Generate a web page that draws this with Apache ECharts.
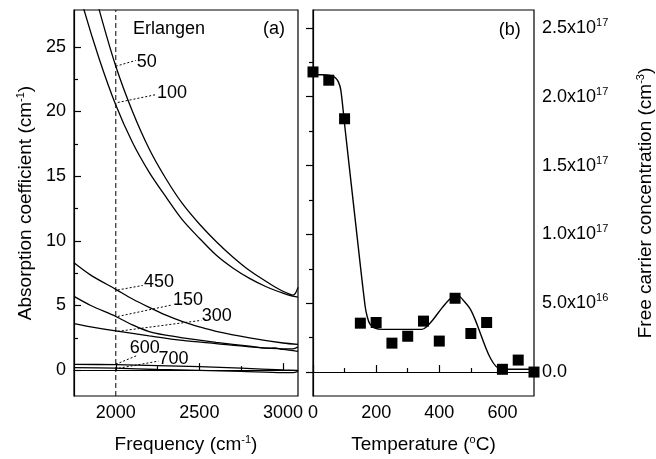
<!DOCTYPE html>
<html>
<head>
<meta charset="utf-8">
<script src="https://cdn.jsdelivr.net/npm/echarts@6.0.0/dist/echarts.min.js"></script>
<style>
    html, body { margin: 0; padding: 0; background: #fff; }
    #chart { width: 656px; height: 459px; }
</style>
</head>
<body>
<div id="chart"></div>
<script>
// ---- panel (a): absorption spectra, [frequency cm-1, alpha cm-1] ----
var curve50 = [[1850, 30.5], [1900, 27.9], [2000, 23.5], [2100, 20.0], [2200, 17.1], [2300, 14.8], [2400, 12.85],
    [2500, 11.3], [2600, 9.95], [2700, 8.75], [2800, 7.7], [2900, 6.85], [2950, 6.45], [3000, 6.1], [3040, 5.88],
    [3060, 5.8], [3075, 5.95], [3090, 6.4]];
var curve100 = [[1780, 29.5], [1800, 28.3], [1900, 24.1], [2000, 20.5], [2100, 17.6], [2200, 15.3], [2300, 13.4],
    [2400, 11.6], [2500, 10.2], [2600, 8.9], [2700, 7.9], [2800, 7.1], [2900, 6.45], [3000, 5.95], [3050, 5.75], [3090, 5.65]];
var curve450 = [[1750, 8.3], [1850, 7.35], [2000, 6.25], [2100, 5.5], [2200, 4.85], [2300, 4.25], [2400, 3.75],
    [2500, 3.35], [2600, 3.0], [2800, 2.5], [3000, 2.1], [3090, 2.0]];
var curve150 = [[1750, 5.7], [1850, 5.0], [2000, 4.15], [2100, 3.5], [2200, 2.98], [2300, 2.7], [2400, 2.5], [2600, 2.15],
    [2800, 1.85], [2900, 1.7], [2950, 1.72], [3000, 1.6], [3090, 1.45]];
var curve300 = [[1750, 3.6], [1850, 3.35], [2000, 3.03], [2200, 2.65], [2400, 2.3], [2600, 2.05], [2800, 1.8],
    [3000, 1.65], [3060, 1.65], [3090, 1.8]];
var curve600 = [[1750, 0.45], [2000, 0.42], [2250, 0.35], [2500, 0.27], [2750, 0.15], [3000, 0.02], [3090, -0.02]];
var curve700 = [[1750, 0.2], [2000, 0.15], [2250, 0.05], [2500, -0.02], [2750, -0.1], [3000, -0.2], [3060, -0.2], [3090, -0.1]];
var spectra = [curve50, curve100, curve450, curve150, curve300, curve600, curve700];

var markFreq = 2000; // dashed line
var freqTicks = [2000, 2500, 3000];
var freqMinor = [2250, 2750];
var alphaTicks = [0, 5, 10, 15, 20, 25];
var alphaMinor = [2.5, 7.5, 12.5, 17.5, 22.5];

// annealing temperature tags with dotted leaders
var tagNames = ['50', '100', '450', '150', '300', '600', '700'];
var tagFrom = [[2000, 23.5], [2012, 20.7], [2012, 6.2], [2012, 4.15], [2012, 3.0], [2000, 0.45], [2018, 0.15]];
var tagTo = [[2119, 23.95], [2238, 21.3], [2161, 6.55], [2339, 5.05], [2512, 3.85], [2131, 1.15], [2256, 0.7]];
var tagAt = [[2185, 23.8], [2336, 21.4], [2259, 6.85], [2432, 5.46], [2604, 4.2], [2173, 1.7], [2345, 0.85]];
var notesA = [['Erlangen', 2318, 26.4], ['(a)', 2946, 26.4]];

// ---- panel (b): free carrier concentration vs temperature ----
var temps = [0, 50, 100, 150, 200, 250, 300, 350, 400, 450, 500, 550, 600, 650, 700];
var carriers = [2.18e17, 2.12e17, 1.84e17, 0.355e17, 0.36e17, 0.21e17, 0.26e17, 0.37e17, 0.225e17, 0.536e17,
    0.28e17, 0.36e17, 0.02e17, 0.087e17, 0];
var fitT = [0, 30, 55, 70, 80, 88, 100, 137, 165, 172, 180, 195, 220, 345, 360, 380, 410, 438, 459, 480, 500, 598, 700];
var fitN = [2.16e17, 2.16e17, 2.155e17, 2.14e17, 2.11e17, 2.05e17, 1.80e17, 1.04e17, 0.48e17, 0.40e17, 0.35e17,
    0.32e17, 0.31e17, 0.31e17, 0.33e17, 0.38e17, 0.47e17, 0.54e17, 0.555e17, 0.51e17, 0.45e17, 0.02e17, 0.02e17];
var tempTicks = [0, 200, 400, 600];
var tempMinor = [100, 300, 500];
var concTicks = [0, 0.5e17, 1.0e17, 1.5e17, 2.0e17, 2.5e17];
var concMinor = [0.25e17, 0.75e17, 1.25e17, 1.75e17, 2.25e17];
var noteB = ['(b)', 623, 2.485e17];

var FONT = 'Liberation Sans, Arial, sans-serif';
var INK = '#000';
var supStyle = { fontSize: 11, fontFamily: FONT, color: INK, padding: [0, 0, 10, 0] };

function plainLabel(v) { return String(v); }

function sciLabel(v) {
    if (v === 0) return '0.0';
    var e = Math.floor(Math.log10(v) + 1e-9);
    var m = v / Math.pow(10, e);
    return m.toFixed(1) + 'x10{sup|' + e + '}';
}

// major axis = labels + long ticks, minor axis = short ticks only
function axisPair(grid, pos, min, max, major, minor, extra) {
    var a = {
        type: 'value', gridIndex: grid, position: pos, min: min, max: max,
        axisLine: { show: true, lineStyle: { color: INK, width: 1.2 } },
        axisTick: { show: true, inside: true, length: 7, customValues: major, lineStyle: { color: INK, width: 1.2 } },
        axisLabel: { show: true, customValues: major, margin: 8, fontSize: 18, fontFamily: FONT, color: INK, formatter: plainLabel },
        splitLine: { show: false }
    };
    for (var k in extra) a[k] = extra[k];
    var b = {
        type: 'value', gridIndex: grid, position: pos, min: min, max: max,
        axisLine: { show: false },
        axisTick: { show: true, inside: true, length: 4, customValues: minor, lineStyle: { color: INK, width: 1.2 } },
        axisLabel: { show: false },
        splitLine: { show: false }
    };
    return [a, b];
}

var nameStyle = { fontSize: 19, fontFamily: FONT, color: INK, rich: { sup: supStyle } };
var xa = axisPair(0, 'bottom', 1750, 3090, freqTicks, freqMinor, {
    name: 'Frequency (cm{sup|-1})', nameLocation: 'middle', nameGap: 38, nameTextStyle: nameStyle
});
var ya = axisPair(0, 'left', -2, 27.85, alphaTicks, alphaMinor, {
    name: 'Absorption coefficient (cm{sup|-1})', nameLocation: 'middle', nameGap: 38, nameTextStyle: nameStyle
});
var xb = axisPair(1, 'bottom', 0, 700, tempTicks, tempMinor, {
    name: 'Temperature ({sup|o}C)', nameLocation: 'middle', nameGap: 38, nameTextStyle: nameStyle
});
var yb = axisPair(1, 'right', -0.174e17, 2.63e17, concTicks, concMinor, {
    name: 'Free carrier concentration (cm{sup|-3})', nameLocation: 'middle', nameGap: 101, nameRotate: 90,
    nameTextStyle: nameStyle
});
yb[0].axisLabel.formatter = sciLabel;
yb[0].axisLabel.rich = { sup: supStyle };

var series = [];
spectra.forEach(function (c) {
    series.push({
        type: 'line', xAxisIndex: 0, yAxisIndex: 0, data: c, smooth: 0.3,
        showSymbol: false, silent: true, lineStyle: { color: INK, width: 1.3 }, clip: true
    });
});
series.push({
    type: 'line', xAxisIndex: 0, yAxisIndex: 0, data: [[markFreq, -2], [markFreq, 27.85]], showSymbol: false, silent: true,
    lineStyle: { color: INK, width: 1, type: [5, 3] }
});
for (var i = 0; i < tagNames.length; i++) {
    series.push({
        type: 'line', xAxisIndex: 0, yAxisIndex: 0, data: [tagFrom[i], tagTo[i]], showSymbol: false, silent: true,
        lineStyle: { color: INK, width: 1, type: [2, 2] }
    });
}
var textA = tagAt.map(function (p, i) { return { value: p, name: tagNames[i] }; });
notesA.forEach(function (n) { textA.push({ value: [n[1], n[2]], name: n[0] }); });
var textLabel = { show: true, position: 'inside', formatter: '{b}', fontSize: 18, fontFamily: FONT, color: INK, textBorderWidth: 0 };
series.push({
    type: 'scatter', xAxisIndex: 0, yAxisIndex: 0, data: textA, symbolSize: 1, silent: true,
    itemStyle: { color: '#fff', opacity: 1 }, label: textLabel
});

series.push({
    type: 'line', xAxisIndex: 2, yAxisIndex: 2, data: fitT.map(function (t, i) { return [t, fitN[i]]; }),
    smooth: 0.3, showSymbol: false, silent: true, lineStyle: { color: INK, width: 1.4 }
});
series.push({
    type: 'scatter', xAxisIndex: 2, yAxisIndex: 2, data: temps.map(function (t, i) { return [t, carriers[i]]; }),
    symbol: 'rect', symbolSize: 11, itemStyle: { color: '#000', opacity: 1 }, clip: false, silent: true
});
series.push({
    type: 'scatter', xAxisIndex: 2, yAxisIndex: 2, data: [{ value: [noteB[1], noteB[2]], name: noteB[0] }],
    symbolSize: 1, silent: true, itemStyle: { color: '#fff', opacity: 1 }, label: textLabel
});

var myChart = echarts.init(document.getElementById('chart'), null, { renderer: 'canvas' });
var option = {
    animation: false,
    backgroundColor: '#fff',
    grid: [
        { left: 74, top: 10, width: 224, height: 388, show: true, borderColor: INK, borderWidth: 1.2, backgroundColor: 'rgba(0,0,0,0)' },
        { left: 313, top: 10, width: 224, height: 387, show: true, borderColor: INK, borderWidth: 1.2, backgroundColor: 'rgba(0,0,0,0)' }
    ],
    xAxis: [xa[0], xa[1], xb[0], xb[1]],
    yAxis: [ya[0], ya[1], yb[0], yb[1]],
    series: series
};
myChart.setOption(option);
</script>
</body>
</html>
